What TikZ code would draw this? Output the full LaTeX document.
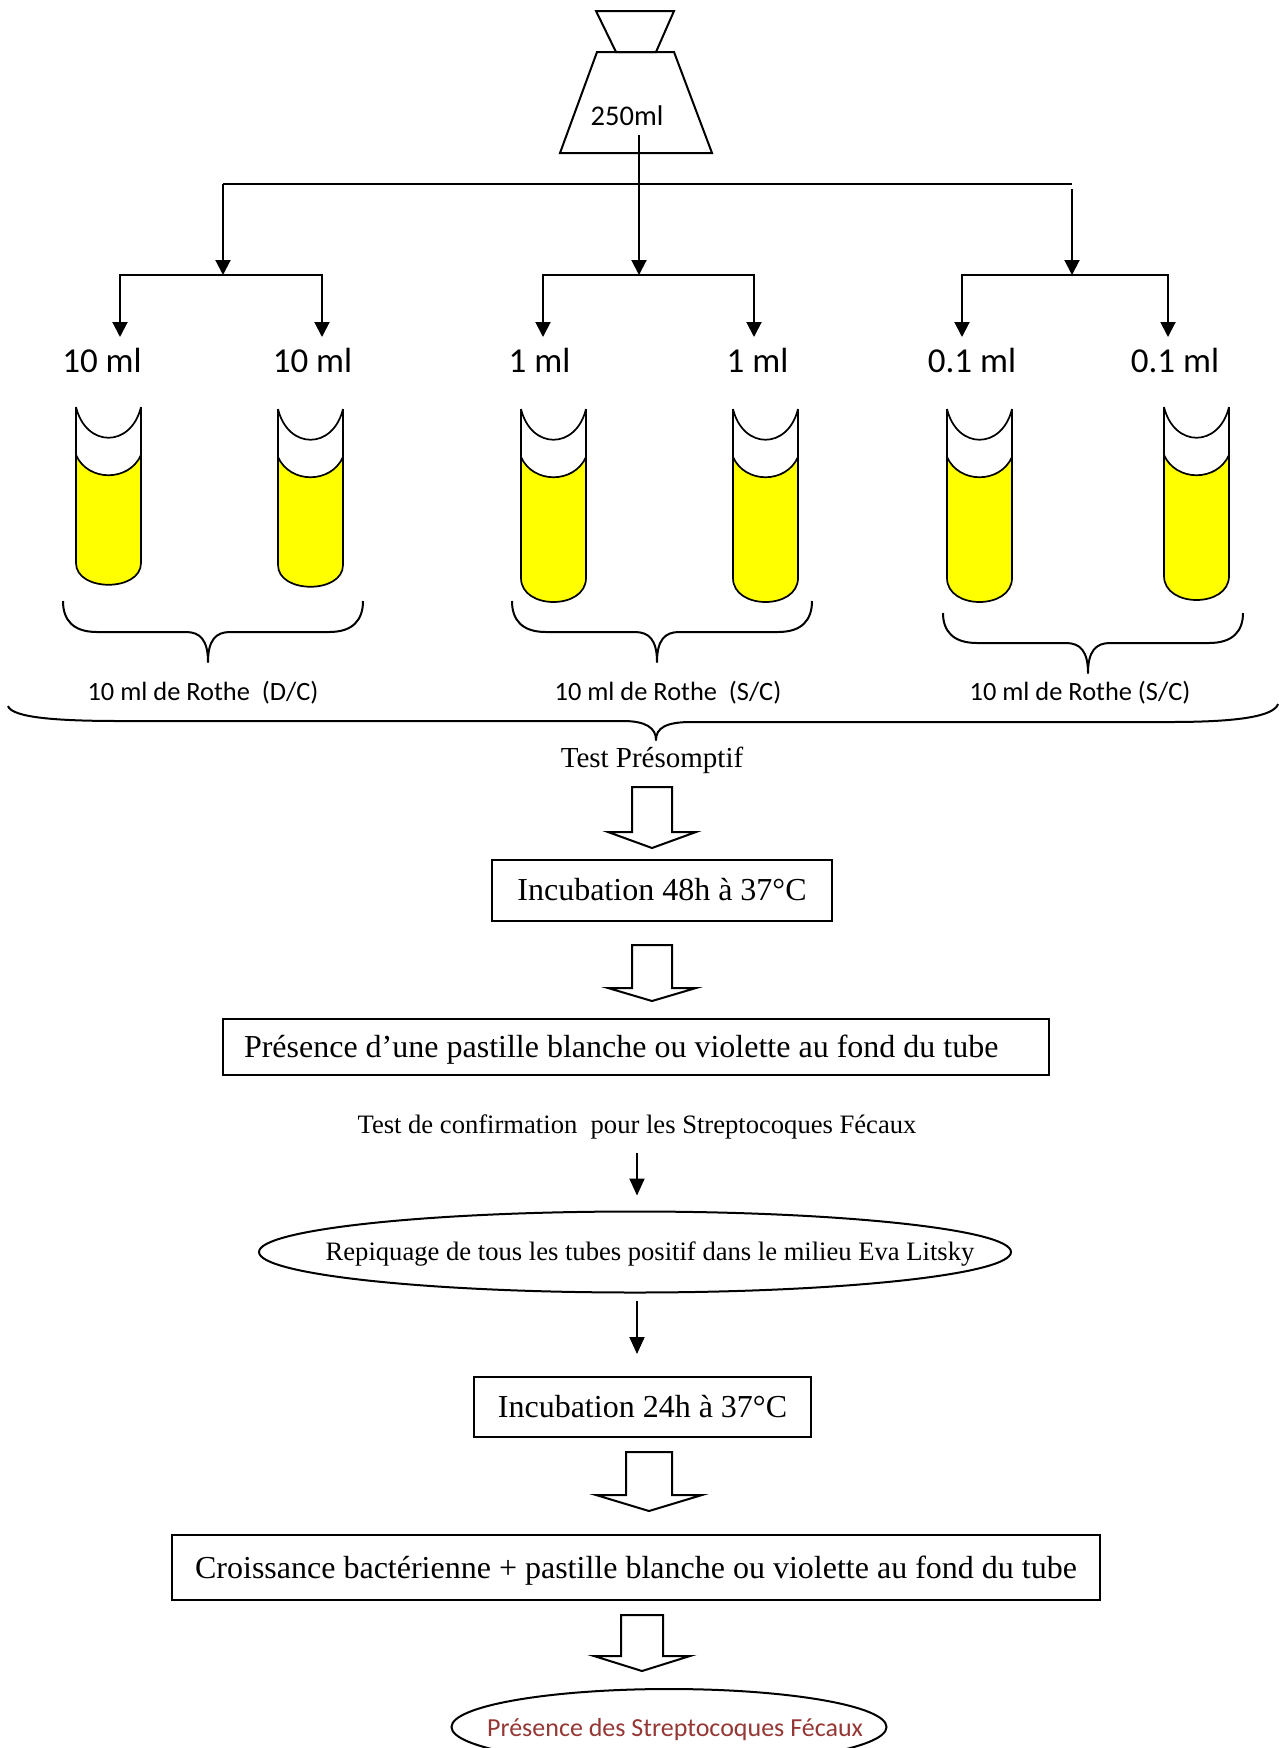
\documentclass[tikz,border=0pt]{standalone}
\usepackage{fontspec}
\setmainfont{Liberation Serif}
\newfontfamily\calibri{Carlito}
\usetikzlibrary{arrows.meta,shapes.geometric}

\definecolor{broth}{HTML}{FFFF00}
\definecolor{resultred}{HTML}{953735}

\newcommand\pxsize[1]{\fontsize{#1pt}{#1pt}\selectfont}

\tikzset{
  glass/.style={line width=1.7pt, line join=round},
  flaskline/.style={line width=2pt, line join=miter},
  bar/.style={line width=1.6pt},
  branch/.style={line width=2pt, -{Triangle[width=15pt,length=15pt]}},
  thinarrow/.style={line width=2pt, -{Triangle[width=15pt,length=17pt]}},
  hollow/.style={line width=2pt, line join=miter, fill=white},
  bracestyle/.style={line width=2pt, line join=round},
  vollabel/.style={anchor=base, inner sep=0pt, font=\calibri\pxsize{35}},
  rothe/.style={anchor=base, inner sep=0pt, font=\calibri\pxsize{26.4}},
  stepbox/.style={draw, line width=2pt, rectangle, inner xsep=0pt, inner ysep=0pt,
    text height=21pt, text depth=0pt, font=\pxsize{32}},
  oval/.style={draw, ellipse, line width=2pt, inner sep=0pt},
}

% test tube: #1 left x, #2 top y, #3 depth where the sides stop, #4 control depth of the rounded end
\newcommand\testtube[4]{%
  \begin{scope}[shift={(#1,#2)}]
    \fill[broth] (0,48) .. controls (12,75) and (53,75) .. (65,48) -- (65,#3)
      .. controls (65,#4) and (0,#4) .. (0,#3) -- cycle;
    \draw[glass] (0,0) -- (0,#3) .. controls (0,#4) and (65,#4) .. (65,#3) -- (65,0);
    \draw[glass] (0,0) .. controls (10,41) and (55,41) .. (65,0);
    \draw[glass] (0,48) .. controls (12,75) and (53,75) .. (65,48);
  \end{scope}}

% curly brace: #1 left x, #2 right x, #3 tip x, #4 end y, #5 bar y, #6 tip y
\newcommand\curlybrace[6]{%
  \draw[bracestyle] (#1,#4) .. controls (#1,{#5-12}) and ({#1+10},#5) .. ({#1+34},#5)
    -- ({#3-22},#5) .. controls ({#3-8},#5) and (#3,{#5+8}) .. (#3,#6)
    .. controls (#3,{#5+8}) and ({#3+8},#5) .. ({#3+22},#5)
    -- ({#2-34},#5) .. controls ({#2-10},#5) and (#2,{#5-12}) .. (#2,#4);}

% block arrow: #1 centre x, #2 top y, #3 head base y, #4 tip y, #5 half shaft, #6 half head
\newcommand\blockarrow[6]{%
  \draw[hollow] ({#1-#5},#2) -- ({#1+#5},#2) -- ({#1+#5},#3) -- ({#1+#6},#3)
    -- (#1,#4) -- ({#1-#6},#3) -- ({#1-#5},#3) -- cycle;}

\begin{document}
\begin{tikzpicture}[x=1pt, y=-1pt]
\path[use as bounding box, fill=white] (0,0) rectangle (1280,1748);

% flask
\draw[flaskline] (596,11) -- (674,11) -- (656,52) -- (616,52) -- cycle;
\draw[flaskline] (597,52) -- (674,52) -- (712,153) -- (560,153) -- cycle;
\node[anchor=base, inner sep=0pt, font=\calibri\pxsize{28.5}] (volume) at (627,125) {250ml};

% distribution tree
\coordinate (src) at (639,135);
\coordinate (barL) at (223,184);
\coordinate (barR) at (1072,184);
\coordinate (barRstart) at (1072,189);
\coordinate (hubL) at (223,275);
\coordinate (hubM) at (639,275);
\coordinate (hubR) at (1072,275);
\coordinate (e1) at (120,337);
\coordinate (e2) at (322,337);
\coordinate (e3) at (543,337);
\coordinate (e4) at (754,337);
\coordinate (e5) at (962,337);
\coordinate (e6) at (1168,337);

\draw[bar] (barL) -- (barR);
\draw[branch] (barL) -- (hubL);
\draw[branch] (src) -- (hubM);
\draw[branch] (barRstart) -- (hubR);
\draw[branch] (hubL) -| (e1);
\draw[branch] (hubL) -| (e2);
\draw[branch] (hubM) -| (e3);
\draw[branch] (hubM) -| (e4);
\draw[branch] (hubR) -| (e5);
\draw[branch] (hubR) -| (e6);

% volumes
\node[vollabel] (v1) at (102,372) {10 ml};
\node[vollabel] (v2) at (312.5,372) {10 ml};
\node[vollabel] (v3) at (539.5,372) {1 ml};
\node[vollabel] (v4) at (757.5,372) {1 ml};
\node[vollabel] (v5) at (972,372) {0.1 ml};
\node[vollabel] (v6) at (1175,372) {0.1 ml};

% tubes of Rothe broth
\testtube{76}{407}{156}{185}
\testtube{278}{409}{156}{185}
\testtube{521}{409}{169}{201}
\testtube{733}{409}{169}{201}
\testtube{947}{409}{169}{201}
\testtube{1164}{407}{169}{201}

% braces
\curlybrace{63}{363}{208}{601}{632}{662}
\curlybrace{512}{812}{657}{601}{632}{662}
\curlybrace{943}{1243}{1088}{613}{643}{673}
\node[rothe] (rothe1) at (203,700) {10 ml de Rothe\ \ (D/C)};
\node[rothe] (rothe2) at (668,700) {10 ml de Rothe\ \ (S/C)};
\node[rothe] (rothe3) at (1080,700) {10 ml de Rothe (S/C)};

\draw[bracestyle] (8,706) .. controls (12,718) and (60,721) .. (120,721)
  -- (623,721) .. controls (646,721) and (656,728) .. (656,740)
  .. controls (656,728) and (666,722) .. (691,722)
  -- (1170,722) .. controls (1240,722) and (1274,716) .. (1278,704);
\node[anchor=base, inner sep=0pt, font=\pxsize{29}] (presumptive) at (652,767) {Test Présomptif};

% presumptive test steps
\blockarrow{652}{787}{832}{848}{20}{44}
\node[stepbox, minimum width=340pt, minimum height=61pt] (inc48) at (662,890) {Incubation 48h à 37°C};
\blockarrow{652}{945}{988}{1001}{20}{44}
\node[stepbox, minimum width=826pt, minimum height=56pt]
  (pellet) at (636,1047) {\makebox[784pt][l]{Présence d’une pastille blanche ou violette au fond du tube}};

% confirmation test
\node[anchor=base, inner sep=0pt, font=\pxsize{26.6}] (confirm) at (637,1133)
  {Test de confirmation\ \ pour les Streptocoques Fécaux};
\node[oval, minimum width=752pt, minimum height=81pt] (repiq) at (635,1252) {};
\node[anchor=base, inner sep=0pt, font=\pxsize{26.6}] (repiqtext) at (650,1260)
  {Repiquage de tous les tubes positif dans le milieu Eva Litsky};
\draw[thinarrow, shorten <=14pt, shorten >=15pt] (confirm.south) -- (confirm.south |- repiq.north);
\node[stepbox, minimum width=337pt, minimum height=60pt] (inc24) at (642.5,1407) {Incubation 24h à 37°C};
\draw[thinarrow, shorten <=7pt, shorten >=22pt] (confirm.south |- repiq.south) -- (confirm.south |- inc24.north);
\blockarrow{649}{1452}{1495}{1511}{23}{53}
\node[stepbox, minimum width=928pt, minimum height=65pt] (growth) at (636,1567.5)
  {Croissance bactérienne + pastille blanche ou violette au fond du tube};
\blockarrow{642}{1615}{1656}{1671}{21}{48}

% result
\node[oval, minimum width=435pt, minimum height=76pt] (result) at (669,1727) {};
\node[anchor=base, inner sep=0pt, text=resultred, font=\calibri\pxsize{26}] (resulttext) at (675,1736)
  {Présence des Streptocoques Fécaux};
\end{tikzpicture}
\end{document}
